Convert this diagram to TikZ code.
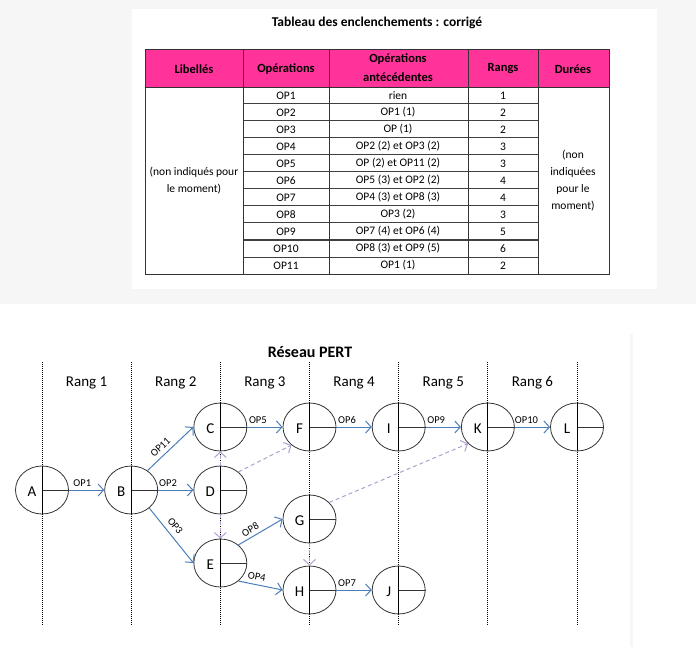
\documentclass[tikz,border=0pt]{standalone}
\usepackage{fontspec}
\setmainfont{Carlito}
\usetikzlibrary{arrows.meta, shapes.geometric, positioning}

\definecolor{rose}{HTML}{FF3399}
\definecolor{bleu}{HTML}{4A7EBB}
\definecolor{lavande}{HTML}{B1A0CF}
\definecolor{fond}{HTML}{F6F6F6}

\tikzset{
  evt/.style={ellipse, draw=black!80, line width=0.8pt, minimum width=53pt, minimum height=48pt, inner sep=0pt},
  lettre/.style={font=\fontsize{15}{16}\selectfont, inner sep=0pt},
  op/.style={draw=bleu, line width=1pt, -{Straight Barb[length=5.5pt,width=12pt]}},
  lien/.style={draw=lavande, line width=1pt, dash pattern=on 4pt off 3pt, -{Straight Barb[length=5.5pt,width=12pt]}},
  oplab/.style={font=\fontsize{10.5}{11}\selectfont, inner sep=1pt},
  rangline/.style={black, line width=0.9pt, dash pattern=on 1pt off 1pt},
  cell/.style={font=\fontsize{11.5}{17}\selectfont, align=center, inner sep=0pt},
  head/.style={font=\bfseries\fontsize{12.5}{19}\selectfont, align=center, inner sep=0pt}
}

\begin{document}
\begin{tikzpicture}[x=1pt, y=-1pt]
\useasboundingbox (0,0) rectangle (696,647);
\fill[fond] (0,0) rectangle (696,304);
\fill[white] (132,9) rectangle (657,289);
\fill[fond] (630,334) rectangle (633,647);

% tableau des enclenchements
\node[font=\bfseries\fontsize{13.5}{15}\selectfont] (titre) at (377,23) {Tableau des enclenchements : corrigé};
\fill[rose] (145,50) rectangle (609,87);
\foreach \i in {1,...,10}
  \draw[black!75, line width=1pt] (243,87+17*\i) -- (538,87+17*\i);
\foreach \x in {243,329,468,538}
  \draw[black!80, line width=0.8pt] (\x,50) -- (\x,274);
\draw[black!80, line width=0.8pt] (145,87) -- (609,87);
\draw[black!80, line width=1pt] (145,50) rectangle (609,274);

\node[head] (hlib) at (194,69) {Libellés};
\node[head] (hop) at (286,69) {Opérations};
\node[head] (hant) at (398,68) {Opérations\\antécédentes};
\node[head] (hrang) at (503,69) {Rangs};
\node[head] (hdur) at (573,69) {Durées};

\foreach \op/\ant/\r [count=\i from 0] in {OP1/rien/1, OP2/OP1 (1)/2, OP3/OP (1)/2,
    OP4/OP2 (2) et OP3 (2)/3, OP5/OP (2) et OP11 (2)/3, OP6/OP5 (3) et OP2 (2)/4,
    OP7/OP4 (3) et OP8 (3)/4, OP8/OP3 (2)/3, OP9/OP7 (4) et OP6 (4)/5,
    OP10/OP8 (3) et OP9 (5)/6, OP11/OP1 (1)/2} {
  \node[cell] (op\i) at (286,95.5+17*\i) {\op};
  \node[cell] (ant\i) at (398,95.5+17*\i) {\ant};
  \node[cell] (rg\i) at (503,95.5+17*\i) {\r};
}
\node[cell] (lib) at (194,181) {(non indiqués pour\\le moment)};
\node[cell] (dur) at (573,181) {(non\\indiquées\\pour le\\moment)};

% reseau PERT
\node[font=\bfseries\fontsize{16}{18}\selectfont] (titrepert) at (310,352) {Réseau PERT};
\foreach \j in {0,...,6}
  \draw[rangline] ({42+89.17*\j},362) -- ({42+89.17*\j},625);
\foreach \k in {1,...,6}
  \node[font=\fontsize{15}{16}\selectfont] (rang\k) at ({42+89.17*(\k-0.5)},383) {Rang \k};

\foreach \n/\j/\y in {A/0/490, B/1/490, C/2/427, D/2/490, E/2/563, F/3/427,
    G/3/519, H/3/590, I/4/427, J/4/590, K/5/427, L/6/427} {
  \node[evt] (\n) at ({42+89.17*\j},\y) {};
  \node[lettre] (t\n) at ([xshift=-10pt, yshift=-2pt]\n.center) {\n};
  \draw[black!80, line width=0.8pt] (\n.center) -- (\n.east);
  \draw[black, line width=0.8pt] (\n.north) -- (\n.south);
}

\draw[op] (A) -- node[oplab, pos=0.38, above=2pt] (lop1) {OP1} (B);
\draw[op] (B) -- node[oplab, pos=0.28, above=2pt] (lop2) {OP2} (D);
\draw[op] (B.50) -- node[oplab, pos=0.4, sloped, above=3pt] (lop11) {OP11} (C.west);
\draw[op] (B.-45) -- node[oplab, pos=0.43, sloped, above=4pt] (lop3) {OP3} (E.west);
\draw[op] (C) -- node[oplab, pos=0.3, above=2pt] (lop5) {OP5} (F);
\draw[op] (F) -- node[oplab, pos=0.3, above=2pt] (lop6) {OP6} (I);
\draw[op] (I) -- node[oplab, pos=0.3, above=2pt] (lop9) {OP9} (K);
\draw[op] (K) -- node[oplab, pos=0.33, above=2pt] (lop10) {OP10} (L);
\draw[op] (E.45) -- node[oplab, pos=0.35, sloped, above=2pt] (lop8) {OP8} (G.west);
\draw[op] (E.-45) -- node[oplab, pos=0.38, sloped, above=3pt] (lop4) {OP4} (H.west);
\draw[op] (H) -- node[oplab, pos=0.3, above=2pt] (lop7) {OP7} (J);

\draw[lien] (D.north) -- (C.south);
\draw[lien] (D.45) -- (F.-135);
\draw[lien] (D.south) -- (E.north);
\draw[lien] (G.40) -- (K.-140);
\draw[lien] (G.south) -- (H.north);
\end{tikzpicture}
\end{document}
